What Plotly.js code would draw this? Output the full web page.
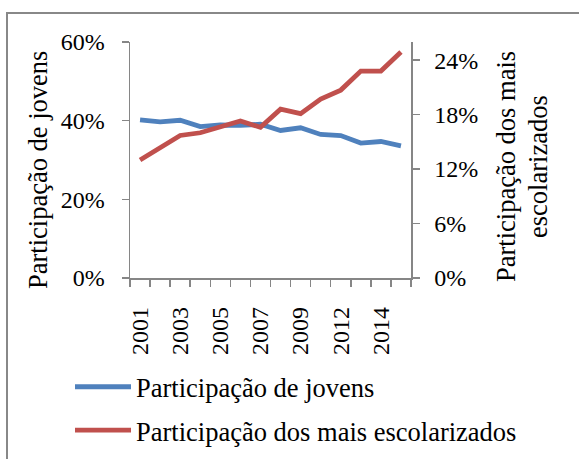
<!DOCTYPE html>
<html>
<head>
<meta charset="utf-8">
<script src="https://cdn.plot.ly/plotly-3.0.1.min.js"></script>
<style>
html,body{margin:0;padding:0;background:#fff;}
#chart{width:579px;height:459px;}
</style>
</head>
<body>
<div id="chart"></div>
<script>
// Data
var years = ["2001","2002","2003","2004","2005","2006","2007","2008","2009","2011","2012","2013","2014","2015"];
var jovens = [40.2, 39.7, 40.1, 38.5, 38.9, 38.8, 39.1, 37.5, 38.2, 36.5, 36.2, 34.3, 34.7, 33.6];
var escolarizados = [13.0, 14.35, 15.7, 16.0, 16.7, 17.3, 16.6, 18.6, 18.1, 19.7, 20.7, 22.8, 22.8, 24.9];
var leftTicks = [0, 20, 40, 60];
var rightTicks = [0, 6, 12, 18, 24];
var name1 = "Participação de jovens";
var name2 = "Participação dos mais escolarizados";
var ytitle1 = "Participação de jovens";
var ytitle2Lines = ["Participação dos mais", "escolarizados"];

var idx = years.map(function(_, i){ return i; });
var labelIdx = idx.filter(function(i){ return i % 2 === 0; });
var FONT = "Liberation Serif";
var AX = "#868686";
var TS = 24, BS = 26.5;

var L = 130, R = 168, T = 42, B = 181;
var W = 579, H = 459;
var pw = W - L - R, ph = H - T - B;
function px2x(p){ return (p - L) / pw; }
function py2y(p){ return (H - B - p) / ph; }

var traces = [
  {x: idx, y: jovens, name: name1, type: "scatter", mode: "lines",
   line: {color: "#4F81BD", width: 4.8}, yaxis: "y", legendgroup: "a"},
  {x: idx, y: escolarizados, name: name2, type: "scatter", mode: "lines",
   line: {color: "#C0504D", width: 4.8}, yaxis: "y2", legendgroup: "b"}
];

function vtitle(text, cx, cy){
  return {text: text, xref: "paper", yref: "paper", x: px2x(cx), y: py2y(cy),
          xanchor: "center", yanchor: "middle", textangle: -90, showarrow: false,
          font: {family: FONT, size: BS, color: "#000"}};
}

var layout = {
  width: W, height: H,
  margin: {l: L, r: R, t: T, b: B, pad: 0, autoexpand: false},
  paper_bgcolor: "#fff", plot_bgcolor: "#fff",
  font: {family: FONT, size: TS, color: "#000"},
  showlegend: true,
  legend: {xref: "container", yref: "container", x: 70 / W, y: 1 - 363 / H,
           xanchor: "left", yanchor: "top",
           orientation: "v", font: {family: FONT, size: BS, color: "#000"},
           tracegroupgap: 6, itemwidth: 56, bgcolor: "rgba(0,0,0,0)"},
  xaxis: {
    automargin: false,
    range: [-0.5, years.length - 0.5],
    tickvals: labelIdx, ticktext: labelIdx.map(function(i){ return years[i]; }),
    tickangle: -90, ticks: "", showgrid: false, zeroline: false,
    showline: true, linecolor: AX, linewidth: 1.5,
    tickfont: {family: FONT, size: TS, color: "#000"},
    ticklabelstandoff: 18,
    minor: {tick0: -0.5, dtick: 1, ticks: "outside", ticklen: 7, tickcolor: AX, tickwidth: 1.5, showgrid: false}
  },
  yaxis: {
    automargin: false,
    range: [0, 60], tickvals: leftTicks, ticktext: leftTicks.map(function(v){ return v + "%"; }),
    ticks: "outside", ticklen: 7, tickcolor: AX, tickwidth: 1.5,
    showline: true, linecolor: AX, linewidth: 1.5, showgrid: false, zeroline: false,
    tickfont: {family: FONT, size: TS, color: "#000"}, ticklabelstandoff: 12
  },
  yaxis2: {
    automargin: false,
    overlaying: "y", side: "right", range: [0, 26],
    tickvals: rightTicks, ticktext: rightTicks.map(function(v){ return v + "%"; }),
    ticks: "outside", ticklen: 7, tickcolor: AX, tickwidth: 1.5,
    showline: true, linecolor: AX, linewidth: 1.5, showgrid: false, zeroline: false,
    tickfont: {family: FONT, size: TS, color: "#000"}, ticklabelstandoff: 10
  },
  annotations: [
    vtitle(ytitle1, 38, 170),
    vtitle(ytitle2Lines[0], 506, 167),
    vtitle(ytitle2Lines[1], 538, 167)
  ],
  shapes: [
    {type: "path", xref: "paper", yref: "paper",
     path: "M " + px2x(7) + " " + py2y(470) + " L " + px2x(7) + " " + py2y(13) + " L " + px2x(600) + " " + py2y(13),
     line: {color: "#888888", width: 2}}
  ]
};

Plotly.newPlot("chart", traces, layout, {displayModeBar: false, staticPlot: true});
</script>
</body>
</html>
